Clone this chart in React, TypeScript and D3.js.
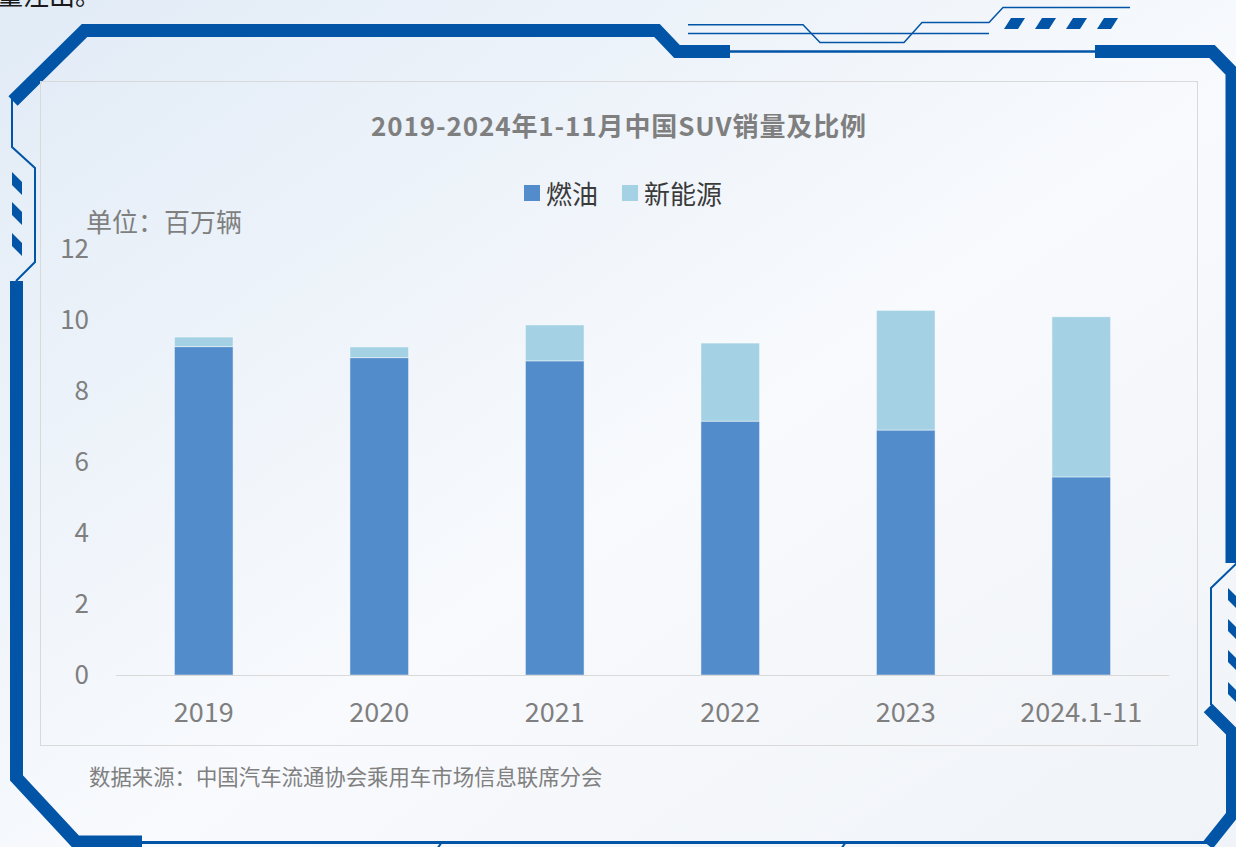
import React from 'react';
import * as d3 from 'd3';

const categories = ['2019', '2020', '2021', '2022', '2023', '2024.1-11'];
const fuelValues = [9.25, 8.94, 8.85, 7.15, 6.9, 5.58];
const nevValues = [0.27, 0.3, 1.01, 2.2, 3.37, 4.51];
const yTicks = [0, 2, 4, 6, 8, 10, 12];
const seriesNames = ['燃油', '新能源'];
const seriesColors = ['#528ccb', '#a4d1e3'];
const titleText = '2019-2024年1-11月中国SUV销量及比例';
const unitText = '单位：百万辆';
const sourceText = '数据来源：中国汽车流通协会乘用车市场信息联席分会';

const W = 1236;
const H = 847;
const FONT = '"Noto Sans CJK SC", "Noto Sans", sans-serif';
const FRAME = '#0255a6';

export default function App() {
  const rows = categories.map((c, i) => ({ cat: c, fuel: fuelValues[i], nev: nevValues[i] }));
  const stack = d3.stack<any>().keys(['fuel', 'nev']);
  const stacked = stack(rows);

  const x = d3.scaleBand().domain(categories).range([116, 1169]).paddingInner(0.666).paddingOuter(0.333);
  const y = d3.scaleLinear().domain([0, 12]).range([675, 249]);

  const leftStripes = [172, 202, 233];
  const rightStripes = [588, 619, 650, 682];
  const topStripes = [1004, 1035, 1066, 1097];
  const bottomTicks = [442, 846];

  return (
    <svg width={W} height={H} style={{ position: 'fixed', left: 0, top: 0, display: 'block' }} fontFamily={FONT}>
      <defs>
        <linearGradient id="bg" x1="0" y1="0" x2="1" y2="1">
          <stop offset="0" stopColor="#e1ebf6" />
          <stop offset="0.55" stopColor="#f8fafd" />
          <stop offset="1" stopColor="#f0f3f7" />
        </linearGradient>
      </defs>
      <rect x={0} y={0} width={W} height={H} fill="url(#bg)" />

      {/* cut-off article text at the top */}
      <text x={-3} y={5} fontSize={26} fill="#1a1a1a">量注出。</text>

      {/* decorative frame */}
      <g fill="none" stroke={FRAME} strokeLinejoin="miter">
        <path d="M13,101 L84.5,30.5 L657,30.5 L677,51.5 L730,51.5" strokeWidth={13} />
        <path d="M730,51.5 L1095,51.5" strokeWidth={2.5} />
        <path d="M1095,51.5 L1212,51.5 L1232,72 L1232,563" strokeWidth={13} />
        <path d="M1237,563 L1211,588 L1211,705" strokeWidth={2} />
        <path d="M1208,708 L1232,732 L1232,815 L1208,845" strokeWidth={12} />
        <path d="M12,97 L12,147 L35,168 L35,262 L16,281" strokeWidth={2} />
        <path d="M16.5,281 L16.5,778 L76,842 L142,842" strokeWidth={13} />
        <path d="M142,842.5 L1212,842.5" strokeWidth={3} />
        <path d="M688,24.7 L803,24.7 L820,42.6 L904,42.6 L922,22.4 L989,22.4 L1003,7.5 L1130,7.5" strokeWidth={1.5} />
        <path d="M688,33.6 L989,33.6" strokeWidth={1.5} />
        {bottomTicks.map((t) => (
          <path key={t} d={`M${t},842 L${t - 5},849`} strokeWidth={2} />
        ))}
      </g>
      <g fill={FRAME}>
        {leftStripes.map((s) => (
          <polygon key={s} points={`12,${s} 22,${s + 10} 22,${s + 23} 12,${s + 13}`} />
        ))}
        {rightStripes.map((s) => (
          <polygon key={s} points={`1228,${s} 1237,${s + 9} 1237,${s + 21} 1228,${s + 12}`} />
        ))}
        {topStripes.map((s) => (
          <polygon key={s} points={`${s + 7},18 ${s + 21},18 ${s + 14},29 ${s},29`} />
        ))}
      </g>

      {/* chart panel */}
      <rect x={40.5} y={81.5} width={1157} height={664} fill="none" stroke="#d9d9d9" strokeWidth={1} />

      <text x={619} y={136} textAnchor="middle" fontSize={26} letterSpacing={0.9} fontWeight="bold" fill="#7f7f7f">{titleText}</text>

      {/* legend */}
      {seriesNames.map((n, i) => {
        const lx = i === 0 ? 524 : 622;
        return (
          <g key={n}>
            <rect x={lx} y={185} width={16} height={16} fill={seriesColors[i]} />
            <text x={lx + 22} y={204} fontSize={26} fill="#3a3a3a">{n}</text>
          </g>
        );
      })}

      <text x={86} y={232} fontSize={26} fill="#7f7f7f">{unitText}</text>

      {/* y tick labels */}
      {yTicks.map((t) => (
        <text key={t} x={89} y={y(t)} dy="0.35em" textAnchor="end" fontSize={26} fill="#7f7f7f">{t}</text>
      ))}

      {/* bars */}
      {stacked.map((layer, li) => (
        <g key={layer.key} fill={seriesColors[li]}>
          {layer.map((d: any, i: number) => (
            <rect
              key={i}
              x={x(categories[i])}
              y={y(d[1])}
              width={x.bandwidth()}
              height={y(d[0]) - y(d[1])}
              stroke="rgba(255,255,255,0.45)"
              strokeWidth={1}
            />
          ))}
        </g>
      ))}

      {/* x axis */}
      <line x1={x.range()[0]} x2={x.range()[1]} y1={675.5} y2={675.5} stroke="#d9d9d9" strokeWidth={1} />
      {categories.map((c) => (
        <text key={c} x={(x(c) as number) + x.bandwidth() / 2} y={722} textAnchor="middle" fontSize={27} fill="#7f7f7f">{c}</text>
      ))}

      <text x={89} y={785} fontSize={21.4} fill="#808080">{sourceText}</text>
    </svg>
  );
}
